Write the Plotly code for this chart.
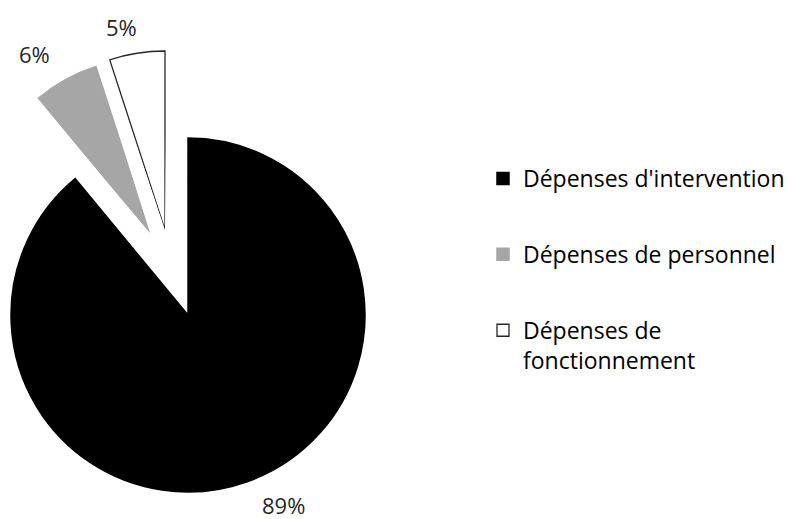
import math
import plotly.graph_objects as go

# ---- data ----
categories = ["Dépenses d'intervention", "Dépenses de personnel", "Dépenses de fonctionnement"]
legend_text = ["Dépenses d'intervention", "Dépenses de personnel", "Dépenses de<br>fonctionnement"]
values = [89, 6, 5]

# ---- style / layout ----
colors = ["#000000", "#A6A6A6", "#FFFFFF"]
line_colors = ["#000000", "#A6A6A6", "#262626"]
line_widths = [1.5, 1.5, 1.3]
W, H = 791, 519
# pixel centre (tip) and radius of each exploded slice
slice_center_px = [(188, 315), (150, 233), (165, 230)]
slice_radius_px = [177, 175, 179]
label_pos_px = [(283, 505), (34, 54), (121, 27)]
FONT = "Open Sans"
RANGE_MAX = 1.015
PAD = 0.6


def sector_bbox(s0, s1):
    """port of plotly.js computeSectorBBox"""
    arc = s1 - s0
    a0 = s0 % 360
    a1 = a0 + arc
    ax0, ay0 = math.cos(math.radians(a0)), math.sin(math.radians(a0))
    ax1, ay1 = math.cos(math.radians(a1)), math.sin(math.radians(a1))
    if (a0 <= 90 and a1 >= 90) or (a0 > 90 and a1 >= 450):
        y1 = 1
    elif ay0 <= 0 and ay1 <= 0:
        y1 = 0
    else:
        y1 = max(ay0, ay1)
    if (a0 <= 180 and a1 >= 180) or (a0 > 180 and a1 >= 540):
        x0 = -1
    elif ax0 >= 0 and ax1 >= 0:
        x0 = 0
    else:
        x0 = min(ax0, ax1)
    if (a0 <= 270 and a1 >= 270) or (a0 > 270 and a1 >= 630):
        y0 = -1
    elif ay0 >= 0 and ay1 >= 0:
        y0 = 0
    else:
        y0 = min(ay0, ay1)
    if a1 >= 360:
        x1 = 1
    elif ax0 <= 0 and ax1 <= 0:
        x1 = 0
    else:
        x1 = max(ax0, ax1)
    return x0, y0, x1, y1


fig = go.Figure()
total = sum(values)
start = 0.0
layout_polars = {}
for i, (cat, v) in enumerate(zip(categories, values)):
    span = v / total * 360.0
    mid = start + span / 2.0
    if i == 0:
        sector = [0, 360]
    else:
        m0 = (90 - (start + span) - PAD) % 360
        sector = [m0, m0 + span + 2 * PAD]
    bx0, by0, bx1, by1 = sector_bbox(*sector)
    cx, cy = slice_center_px[i]
    R = slice_radius_px[i] * RANGE_MAX
    xd = [(cx + R * bx0) / W, (cx + R * bx1) / W]
    yd = [1 - (cy - R * by0) / H, 1 - (cy - R * by1) / H]
    pname = "polar" if i == 0 else f"polar{i + 1}"
    layout_polars[pname] = dict(
        domain=dict(x=[max(0, xd[0]), min(1, xd[1])], y=[max(0, yd[0]), min(1, yd[1])]),
        sector=sector,
        hole=0,
        bgcolor="rgba(0,0,0,0)",
        radialaxis=dict(visible=False, range=[0, RANGE_MAX]),
        angularaxis=dict(visible=False, direction="clockwise", rotation=90),
    )
    fig.add_trace(go.Barpolar(
        r=[1], theta=[mid], width=[span],
        name=legend_text[i],
        marker=dict(color=colors[i], line=dict(color=line_colors[i], width=line_widths[i])),
        subplot=pname,
        legendgroup=str(i),
        hoverinfo="skip",
    ))
    start += span

annotations = []
for v, (lx, ly) in zip(values, label_pos_px):
    annotations.append(dict(
        text=f"{v}%", x=lx / W, y=1 - ly / H, xref="paper", yref="paper",
        xanchor="center", yanchor="middle", showarrow=False,
        font=dict(family=FONT, size=22, color="#262626"),
    ))

fig.update_layout(
    width=W, height=H, autosize=False,
    margin=dict(l=0, r=0, t=0, b=0),
    paper_bgcolor="white",
    showlegend=True,
    legend=dict(
        x=483 / W, y=1 - 157 / H, xanchor="left", yanchor="top",
        font=dict(family=FONT, size=23, color="#000000"),
        tracegroupgap=43, valign="top", bgcolor="rgba(0,0,0,0)",
    ),
    annotations=annotations,
    **layout_polars,
)

fig.write_html("out.html")
